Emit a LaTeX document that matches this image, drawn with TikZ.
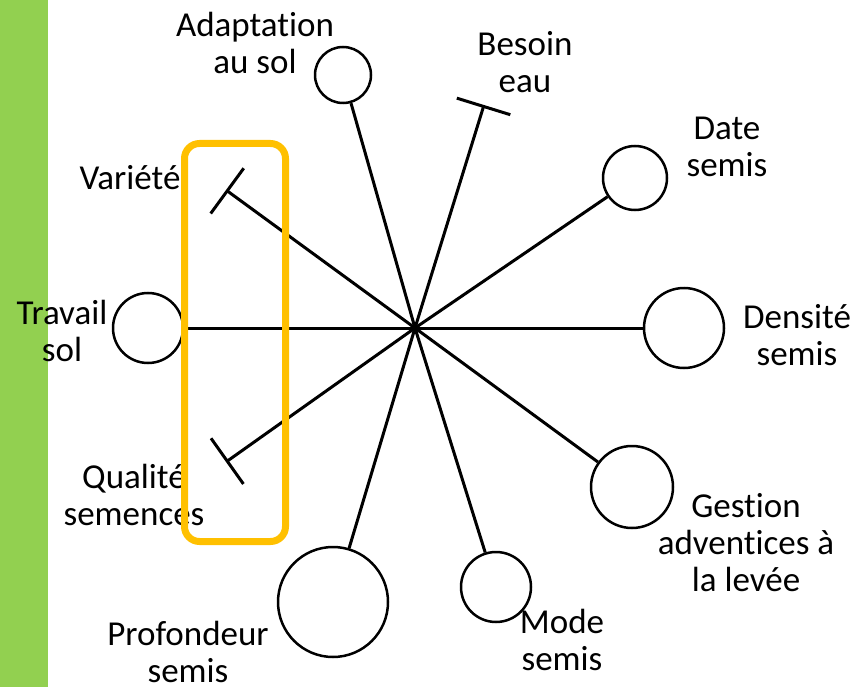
\documentclass[tikz,border=0pt]{standalone}
\usepackage{fontspec}
\setmainfont{Carlito}[Ligatures=CommonOff]
\usetikzlibrary{arrows.meta}
\definecolor{greenbar}{HTML}{92D050}
\definecolor{gold}{HTML}{FFC000}
\begin{document}
\begin{tikzpicture}[x=1pt,y=-1pt,
  ring/.style={circle,draw,line width=2.5pt,minimum size=#1,inner sep=0pt},
  spoke/.style={line width=3pt},
  tbar/.style={line width=3pt,-{Bar[width=56pt]}},
  lbl/.style={align=center,font=\fontsize{35}{37}\selectfont,inner sep=0pt},
]
\useasboundingbox (0,0) rectangle (856,687);
\fill[greenbar] (0,0) rectangle (48,687);
\coordinate (c) at (415,328);
\node[ring=56pt] (adapt) at (343,75) {};
\node[ring=64pt] (date) at (635,178) {};
\node[ring=80pt] (dens) at (684,328) {};
\node[ring=82pt] (gest) at (632,487) {};
\node[ring=70pt] (mode) at (496,587) {};
\node[ring=110pt] (prof) at (333,602) {};
\node[ring=70pt] (trav) at (148,328) {};
\coordinate (eau) at (484,105);
\coordinate (var) at (226,190);
\coordinate (qual) at (226,462);
\draw[spoke] (c) -- (adapt);
\draw[spoke] (c) -- (date);
\draw[spoke] (c) -- (dens);
\draw[spoke] (c) -- (gest);
\draw[spoke] (c) -- (mode);
\draw[spoke] (c) -- (prof);
\draw[spoke] (c) -- (trav);
\draw[tbar] (c) -- (eau);
\draw[tbar] (c) -- (var);
\draw[tbar] (c) -- (qual);
\node[lbl] (tadapt) at (255,43) {Adaptation\\au sol};
\node[lbl] (teau) at (525,62) {Besoin\\eau};
\node[lbl] (tdate) at (727,147) {Date\\semis};
\node[lbl] (tvar) at (130,178) {Variété};
\node[lbl] (ttrav) at (62,331) {Travail\\sol};
\node[lbl] (tdens) at (797,335) {Densité\\semis};
\node[lbl] (tqual) at (134,495) {Qualité\\semences};
\node[lbl] (tgest) at (746,543) {Gestion\\adventices à\\la levée};
\node[lbl] (tprof) at (188,652) {Profondeur\\semis};
\node[lbl] (tmode) at (562,640) {Mode\\semis};
\draw[gold,line width=7pt,rounded corners=15pt] (184.5,143.5) rectangle (285.5,541.5);
\end{tikzpicture}
\end{document}
